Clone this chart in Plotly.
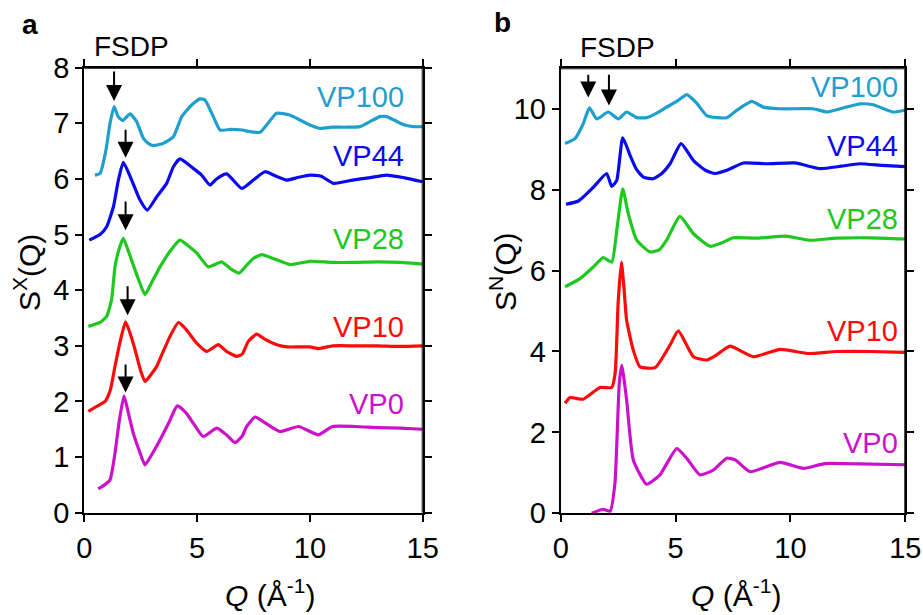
import plotly.graph_objects as go

# ---------------- data ----------------
# Panel a : S^X(Q)
qa_vp100 = [0.47, 0.70, 0.96, 1.14, 1.32, 1.50, 1.70, 2.03, 2.32, 2.62, 2.84, 3.06, 3.50, 3.95, 4.32, 4.76,
            5.13, 5.35, 5.72, 6.02, 6.50, 7.00, 7.34, 7.79, 8.08, 8.53, 9.10, 9.56, 10.0, 10.45, 11.0, 11.6,
            12.22, 12.66, 13.1, 13.4, 13.77, 14.2, 14.6, 15.0]
sa_vp100 = [6.07, 6.10, 6.52, 7.00, 7.30, 7.12, 7.05, 7.17, 7.03, 6.73, 6.64, 6.60, 6.64, 6.76, 7.12, 7.33,
            7.44, 7.42, 7.12, 6.88, 6.89, 6.88, 6.85, 6.84, 6.97, 7.18, 7.15, 7.06, 6.97, 6.91, 6.93, 6.93,
            6.94, 7.03, 7.12, 7.12, 7.05, 6.97, 6.94, 6.94]

qa_vp44 = [0.22, 0.70, 0.99, 1.29, 1.51, 1.73, 2.10, 2.47, 2.79, 3.21, 3.65, 3.95, 4.24, 4.83, 5.20, 5.57,
           5.86, 6.31, 6.98, 7.49, 8.01, 8.50, 8.97, 9.50, 10.0, 10.5, 11.04, 11.9, 12.6, 13.4, 14.2, 15.0]
sa_vp44 = [4.90, 5.00, 5.14, 5.50, 5.98, 6.30, 5.98, 5.62, 5.44, 5.68, 5.92, 6.22, 6.36, 6.19, 6.07, 5.89,
           6.00, 6.09, 5.83, 5.98, 6.13, 6.05, 5.98, 6.03, 6.07, 6.05, 5.92, 5.98, 6.02, 6.07, 6.02, 5.95]

qa_vp28 = [0.18, 0.70, 0.99, 1.21, 1.36, 1.55, 1.73, 2.00, 2.35, 2.69, 3.00, 3.36, 3.80, 4.24, 4.60, 4.98,
           5.50, 6.09, 6.50, 6.87, 7.20, 7.49, 7.86, 8.50, 9.12, 10.0, 11.0, 12.0, 13.0, 14.0, 15.0]
sa_vp28 = [3.35, 3.42, 3.53, 3.83, 4.42, 4.75, 4.93, 4.65, 4.25, 3.92, 4.15, 4.42, 4.70, 4.90, 4.80, 4.67,
           4.42, 4.51, 4.38, 4.31, 4.45, 4.57, 4.64, 4.55, 4.46, 4.52, 4.50, 4.50, 4.51, 4.50, 4.47]

qa_vp10 = [0.18, 0.50, 0.92, 1.15, 1.36, 1.60, 1.83, 2.05, 2.25, 2.50, 2.69, 2.95, 3.21, 3.50, 3.80, 4.17,
           4.50, 4.98, 5.43, 5.94, 6.30, 6.76, 7.00, 7.27, 7.64, 8.00, 8.53, 9.00, 9.50, 10.0, 10.4, 11.0,
           12.0, 13.0, 14.0, 15.0]
sa_vp10 = [1.82, 1.90, 2.00, 2.20, 2.63, 3.10, 3.43, 3.20, 2.93, 2.55, 2.36, 2.48, 2.63, 2.90, 3.17, 3.42,
           3.30, 3.05, 2.90, 3.02, 2.90, 2.81, 2.85, 3.08, 3.21, 3.12, 3.02, 2.98, 2.98, 2.98, 2.95, 3.00,
           3.00, 3.00, 2.99, 3.00]

qa_vp0 = [0.62, 0.90, 1.14, 1.36, 1.55, 1.76, 1.95, 2.17, 2.45, 2.69, 3.00, 3.36, 3.75, 4.12, 4.50, 4.83,
          5.27, 5.87, 6.30, 6.68, 7.00, 7.20, 7.57, 8.00, 8.67, 9.50, 10.37, 11.0, 12.0, 13.0, 14.0, 15.0]
sa_vp0 = [0.43, 0.50, 0.59, 1.07, 1.65, 2.10, 1.80, 1.43, 1.10, 0.86, 1.05, 1.31, 1.62, 1.92, 1.80, 1.61,
          1.37, 1.52, 1.40, 1.26, 1.38, 1.55, 1.72, 1.62, 1.46, 1.55, 1.40, 1.55, 1.55, 1.53, 1.52, 1.50]

# Panel b : S^N(Q)
qb_vp100 = [0.19, 0.62, 0.98, 1.25, 1.57, 2.07, 2.51, 2.87, 3.31, 3.74, 4.20, 4.61, 5.10, 5.49, 5.90, 6.36,
            6.80, 7.23, 7.66, 8.32, 8.82, 9.50, 10.3, 11.0, 11.58, 12.3, 13.03, 13.6, 14.48, 15.0]
sb_vp100 = [9.14, 9.26, 9.63, 10.02, 9.75, 9.92, 9.75, 9.92, 9.78, 9.78, 9.90, 10.04, 10.20, 10.35, 10.15, 9.83,
            9.78, 9.78, 9.96, 10.18, 10.04, 10.00, 10.00, 10.00, 9.92, 10.02, 10.12, 10.10, 9.92, 9.97]

qb_vp44 = [0.23, 0.77, 1.42, 2.00, 2.22, 2.44, 2.70, 3.02, 3.30, 3.60, 4.03, 4.40, 4.76, 5.24, 5.78, 6.30,
           6.72, 7.23, 7.95, 9.00, 10.2, 11.29, 12.2, 13.0, 14.0, 15.0]
sb_vp44 = [7.64, 7.72, 8.06, 8.40, 8.08, 8.23, 9.28, 8.85, 8.50, 8.31, 8.27, 8.40, 8.64, 9.14, 8.72, 8.48,
           8.40, 8.48, 8.66, 8.64, 8.66, 8.52, 8.58, 8.64, 8.60, 8.57]

qb_vp28 = [0.19, 0.84, 1.42, 1.85, 2.22, 2.46, 2.70, 2.94, 3.31, 3.89, 4.30, 4.61, 5.19, 5.78, 6.50, 7.00,
           7.51, 8.50, 9.80, 10.85, 12.0, 13.5, 15.0]
sb_vp28 = [5.60, 5.80, 6.09, 6.32, 6.21, 7.08, 8.02, 7.41, 6.75, 6.46, 6.52, 6.75, 7.34, 6.91, 6.60, 6.68,
           6.81, 6.80, 6.85, 6.75, 6.80, 6.81, 6.78]

qb_vp10 = [0.19, 0.41, 0.98, 1.71, 2.22, 2.37, 2.50, 2.64, 2.75, 2.87, 3.16, 3.45, 4.11, 4.76, 5.12, 5.78,
           6.36, 6.80, 7.37, 8.38, 9.55, 10.8, 12.0, 13.5, 15.0]
sb_vp10 = [2.72, 2.86, 2.82, 3.11, 3.11, 3.46, 5.20, 6.21, 5.60, 4.77, 4.03, 3.62, 3.60, 4.16, 4.51, 3.87,
           3.79, 3.92, 4.13, 3.87, 4.05, 3.95, 4.00, 4.00, 3.98]

qb_vp0 = [1.35, 1.85, 2.15, 2.36, 2.55, 2.66, 2.87, 3.16, 3.74, 4.32, 5.05, 5.50, 6.06, 6.64, 7.23, 7.60,
          8.24, 9.55, 10.56, 11.5, 13.0, 15.0]
sb_vp0 = [0.00, 0.10, 0.05, 0.74, 3.21, 3.66, 2.80, 1.32, 0.72, 0.95, 1.60, 1.35, 0.95, 1.07, 1.36, 1.32,
          1.03, 1.26, 1.11, 1.23, 1.22, 1.20]

series_names = ["VP100", "VP44", "VP28", "VP10", "VP0"]

# FSDP arrows: (Q, tail S, tip S)
arrows_a = [(1.32, 7.96, 7.40), (1.83, 6.91, 6.38), (1.83, 5.62, 5.08), (1.92, 4.10, 3.55), (1.83, 2.69, 2.16)]
arrows_b = [(1.20, 10.88, 10.28), (2.10, 10.88, 10.08)]

# label anchor positions (right edge, data units)
labels_a = [(14.26, 7.48), (14.26, 6.42), (14.26, 4.92), (14.26, 3.33), (14.26, 1.955)]
labels_b = [(14.77, 10.54), (14.77, 9.07), (14.77, 7.27), (14.77, 4.51), (14.77, 1.75)]

# ---------------- styles ----------------
colors = ["#1E9FCF", "#0A0AF0", "#1EC81E", "#FF0A0A", "#CC11CC"]
FONT = "Liberation Sans, Arial, sans-serif"
W, H = 923, 615

fig = go.Figure()

a_data = [(qa_vp100, sa_vp100), (qa_vp44, sa_vp44), (qa_vp28, sa_vp28), (qa_vp10, sa_vp10), (qa_vp0, sa_vp0)]
b_data = [(qb_vp100, sb_vp100), (qb_vp44, sb_vp44), (qb_vp28, sb_vp28), (qb_vp10, sb_vp10), (qb_vp0, sb_vp0)]

xr_a, yr_a = [0, 15], [0, 8]
xr_b, yr_b = [0, 15], [0, 11]

for (q, s), name, c in zip(a_data, series_names, colors):
    fig.add_trace(go.Scatter(x=q, y=s, mode="lines", name=name, xaxis="x", yaxis="y",
                             line=dict(color=c, width=3.2, shape="spline", smoothing=0.5), showlegend=False))
for (q, s), name, c in zip(b_data, series_names, colors):
    fig.add_trace(go.Scatter(x=q, y=s, mode="lines", name=name, xaxis="x2", yaxis="y2",
                             line=dict(color=c, width=3.2, shape="spline", smoothing=0.5), showlegend=False))

# helper traces on the top/right frame axes so that those axes get drawn (their lines form the box)
for xr, yr, xa, ya in ((xr_a, yr_a, "x3", "y3"), (xr_b, yr_b, "x4", "y4")):
    fig.add_trace(go.Scatter(x=[xr[0], xr[1], xr[1]], y=[yr[1], yr[1], yr[0]], mode="lines",
                             xaxis=xa, yaxis=ya, line=dict(color="black", width=2),
                             hoverinfo="skip", showlegend=False))

def px2x(p):
    return p / W

def px2y(p):
    return 1 - p / H

dom_a = ([px2x(84.3), px2x(422.7)], [px2y(512.7), px2y(67.7)])
dom_b = ([px2x(560.7), px2x(905.3)], [px2y(513.3), px2y(68.3)])

axis_common = dict(showgrid=False, zeroline=False, showline=True, linecolor="black", linewidth=2,
                   mirror="all", automargin=False, ticks="outside", ticklen=7, tickwidth=2,
                   tickcolor="black", tickfont=dict(family=FONT, size=29, color="black"))

frame_axis = dict(showgrid=False, zeroline=False, showline=True, linecolor="black", linewidth=2,
                  ticks="", showticklabels=False, automargin=False)

fig.update_layout(
    width=W, height=H, margin=dict(l=0, r=0, t=0, b=0, pad=0, autoexpand=False),
    paper_bgcolor="white", plot_bgcolor="white", showlegend=False,
    xaxis=dict(domain=dom_a[0], range=xr_a, tickvals=[0, 5, 10, 15], anchor="y",
               ticklabelstandoff=1, **axis_common),
    yaxis=dict(domain=dom_a[1], range=yr_a, dtick=1, anchor="x", **axis_common),
    xaxis2=dict(domain=dom_b[0], range=xr_b, tickvals=[0, 5, 10, 15], anchor="y2",
                ticklabelstandoff=1, **axis_common),
    yaxis2=dict(domain=dom_b[1], range=yr_b, tickvals=[0, 2, 4, 6, 8, 10], anchor="x2", **axis_common),
    xaxis3=dict(overlaying="x", side="top", anchor="y3", range=xr_a, **frame_axis),
    yaxis3=dict(overlaying="y", side="right", anchor="x3", range=yr_a, **frame_axis),
    xaxis4=dict(overlaying="x2", side="top", anchor="y4", range=xr_b, **frame_axis),
    yaxis4=dict(overlaying="y2", side="right", anchor="x4", range=yr_b, **frame_axis),
)

ann = []
for (xq, yq), name, c in zip(labels_a, series_names, colors):
    ann.append(dict(x=xq, y=yq, xref="x", yref="y", text=name, showarrow=False, xanchor="right",
                    yanchor="middle", font=dict(family=FONT, size=29, color=c)))
for (xq, yq), name, c in zip(labels_b, series_names, colors):
    ann.append(dict(x=xq, y=yq, xref="x2", yref="y2", text=name, showarrow=False, xanchor="right",
                    yanchor="middle", font=dict(family=FONT, size=29, color=c)))

for q, s0, s1 in arrows_a:
    ann.append(dict(x=q, y=s1, xref="x", yref="y", ax=q, ay=s0, axref="x", ayref="y", text="",
                    showarrow=True, arrowhead=2, arrowwidth=2, arrowsize=1.6, arrowcolor="black"))
for q, s0, s1 in arrows_b:
    ann.append(dict(x=q, y=s1, xref="x2", yref="y2", ax=q, ay=s0, axref="x2", ayref="y2", text="",
                    showarrow=True, arrowhead=2, arrowwidth=2, arrowsize=1.6, arrowcolor="black"))

def txt(xp, yp, text, size, angle=0, bold=False):
    return dict(x=px2x(xp), y=px2y(yp), xref="paper", yref="paper", text=(f"<b>{text}</b>" if bold else text),
                showarrow=False, xanchor="center", yanchor="middle", textangle=angle,
                font=dict(family=FONT, size=size, color="black"))

ann += [
    txt(131.7, 46.7, "FSDP", 28),
    txt(617.5, 47.5, "FSDP", 28),
    txt(30, 24, "a", 28, bold=True),
    txt(502, 23, "b", 28, bold=True),
    txt(270, 593, "<i>Q</i> (Å<sup>-1</sup>)", 30),
    txt(736, 593, "<i>Q</i> (Å<sup>-1</sup>)", 30),
    txt(27, 273, "S<sup>X</sup>(Q)", 30, angle=-90),
    txt(503, 272, "S<sup>N</sup>(Q)", 30, angle=-90),
]
fig.update_layout(annotations=ann)

fig.write_html("out.html")
